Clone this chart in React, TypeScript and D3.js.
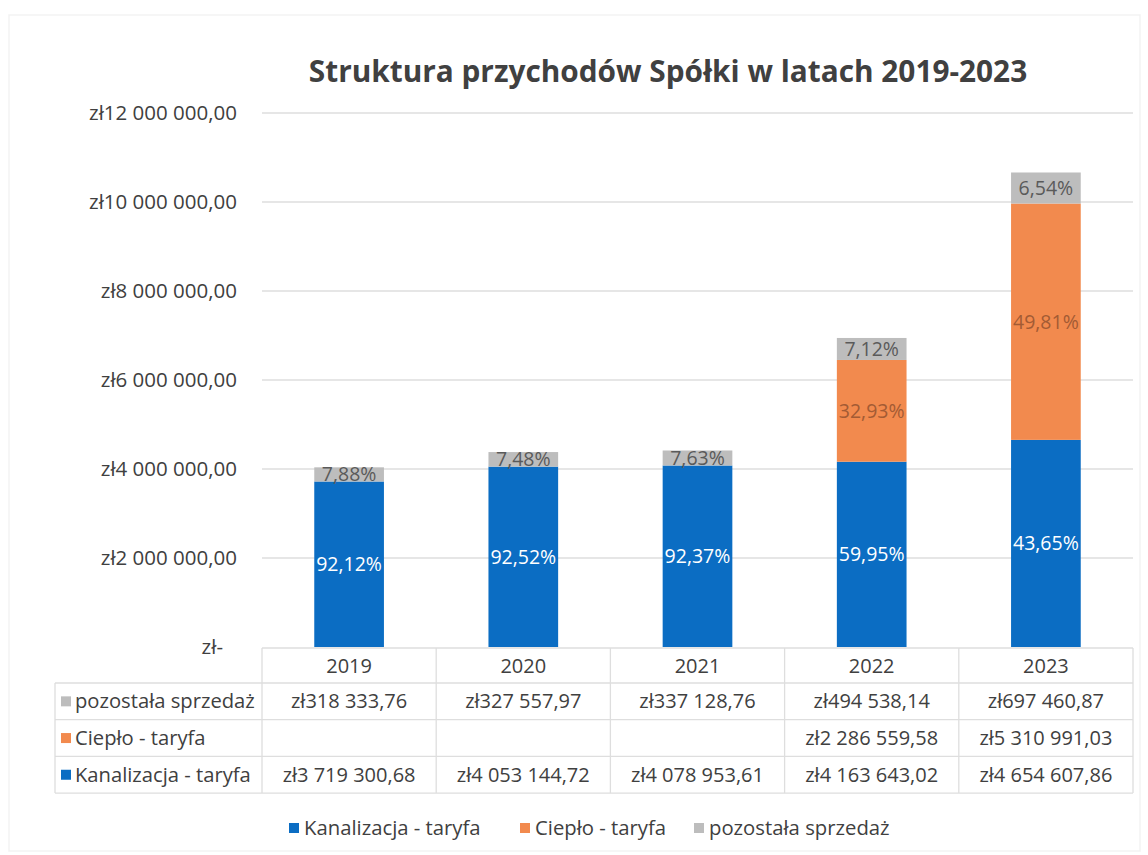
import React from "react";
import * as d3 from "d3";

const years = ["2019", "2020", "2021", "2022", "2023"];
const kanalizacja = [3719300.68, 4053144.72, 4078953.61, 4163643.02, 4654607.86];
const cieplo = [0, 0, 0, 2286559.58, 5310991.03];
const pozostala = [318333.76, 327557.97, 337128.76, 494538.14, 697460.87];
const yTicks = [0, 2000000, 4000000, 6000000, 8000000, 10000000, 12000000];

const seriesNames = ["Kanalizacja - taryfa", "Ciepło - taryfa", "pozostała sprzedaż"];
const seriesColors = ["#0b6dc3", "#f28a4e", "#bdbdbd"];
const labelColors = ["#ffffff", "#a35b34", "#5a5a5a"];

const FONT = "'Open Sans', Lato, sans-serif";
const TEXT = "#404040";
const GRID = "#dedede";

const loc = d3.formatLocale({ decimal: ",", thousands: " ", grouping: [3], currency: ["zł", ""] });
const fmtMoney = (v: number) => (v === 0 ? "zł-" : "zł" + loc.format(",.2f")(v));
const fmtPct = (v: number) => loc.format(".2f")(v * 100) + "%";

export default function App() {
  const W = 1148, H = 855;
  const plotL = 262, plotR = 1133, plotTop = 113, plotBot = 647;
  const x = d3.scaleBand<string>().domain(years).range([plotL, plotR]).paddingInner(0.6).paddingOuter(0.3);
  const y = d3.scaleLinear().domain([0, 12000000]).range([plotBot, plotTop]);
  const colX = d3.scaleBand<string>().domain(years).range([plotL, plotR]);

  const rows = years.map((yr, i) => ({ year: yr, k: kanalizacja[i], c: cieplo[i], p: pozostala[i] }));
  const stack = d3.stack<any>().keys(["k", "c", "p"])(rows);

  const tableTop = 648, headerBot = 683, rowH = 36.7, tableLeft = 55;
  const tableRows = [
    { name: seriesNames[2], color: seriesColors[2], vals: pozostala },
    { name: seriesNames[1], color: seriesColors[1], vals: cieplo },
    { name: seriesNames[0], color: seriesColors[0], vals: kanalizacja },
  ];
  const tableBot = headerBot + rowH * 3;

  const legendItems = [
    { name: seriesNames[0], color: seriesColors[0], x: 289 },
    { name: seriesNames[1], color: seriesColors[1], x: 520 },
    { name: seriesNames[2], color: seriesColors[2], x: 694 },
  ];

  return (
    <svg width={W} height={H} style={{ display: "block", position: "absolute", left: 0, top: 0 }} fontFamily={FONT}>
      <rect x={0} y={0} width={W} height={H} fill="#ffffff" />
      <rect x={9} y={15} width={1131} height={836} fill="none" stroke="#f3f3f3" strokeWidth={1.5} />
      <text x={668} y={82} textAnchor="middle" fontSize={29.8} fontWeight={700} fill={TEXT}>
        Struktura przychodów Spółki w latach 2019-2023
      </text>
      {/* gridlines */}
      {yTicks.filter((t) => t > 0).map((t) => (
        <line key={t} x1={plotL} x2={plotR} y1={y(t)} y2={y(t)} stroke={GRID} strokeWidth={1.3} />
      ))}
      {/* y labels */}
      {yTicks.map((t) => (
        <text key={t} x={t === 0 ? 223 : 237} y={y(t) + 7} textAnchor="end" fontSize={20.5} fill={TEXT}>
          {fmtMoney(t)}
        </text>
      ))}
      {/* bars */}
      {stack.map((s, si) => (
        <g key={si}>
          {s.map((d, i) => {
            const v = d[1] - d[0];
            if (v <= 0) return null;
            const total = kanalizacja[i] + cieplo[i] + pozostala[i];
            const bx = x(years[i])!;
            const y0 = y(d[0]), y1 = y(d[1]);
            return (
              <g key={i}>
                <rect x={bx} y={y1} width={x.bandwidth()} height={y0 - y1} fill={seriesColors[si]} />
                <text x={bx + x.bandwidth() / 2} y={(y0 + y1) / 2 + 7} textAnchor="middle" fontSize={19.5} fill={labelColors[si]}>
                  {fmtPct(v / total)}
                </text>
              </g>
            );
          })}
        </g>
      ))}
      {/* data table */}
      <g stroke={GRID} strokeWidth={1.3}>
        <line x1={plotL} x2={plotR} y1={tableTop} y2={tableTop} />
        {[0, 1, 2, 3].map((r) => (
          <line key={r} x1={tableLeft} x2={plotR} y1={headerBot + r * rowH} y2={headerBot + r * rowH} />
        ))}
        <line x1={tableLeft} x2={tableLeft} y1={headerBot} y2={tableBot} />
        {years.map((yr) => (
          <line key={yr} x1={colX(yr)!} x2={colX(yr)!} y1={tableTop} y2={tableBot} />
        ))}
        <line x1={plotR} x2={plotR} y1={tableTop} y2={tableBot} />
      </g>
      {years.map((yr) => (
        <text key={yr} x={colX(yr)! + colX.bandwidth() / 2} y={(tableTop + headerBot) / 2 + 7} textAnchor="middle" fontSize={20} fill={TEXT}>
          {yr}
        </text>
      ))}
      {tableRows.map((r, ri) => {
        const cy = headerBot + ri * rowH + rowH / 2;
        return (
          <g key={ri}>
            <rect x={61} y={cy - 5} width={10} height={10} fill={r.color} />
            <text x={75} y={cy + 7} fontSize={20.2} fill={TEXT}>{r.name}</text>
            {r.vals.map((v, i) =>
              v > 0 ? (
                <text key={i} x={colX(years[i])! + colX.bandwidth() / 2} y={cy + 7} textAnchor="middle" fontSize={20} fill={TEXT}>
                  {fmtMoney(v)}
                </text>
              ) : null
            )}
          </g>
        );
      })}
      {/* legend */}
      {legendItems.map((l) => (
        <g key={l.name}>
          <rect x={l.x} y={823} width={10} height={10} fill={l.color} />
          <text x={l.x + 15} y={835} fontSize={20.3} fill={TEXT}>{l.name}</text>
        </g>
      ))}
    </svg>
  );
}
